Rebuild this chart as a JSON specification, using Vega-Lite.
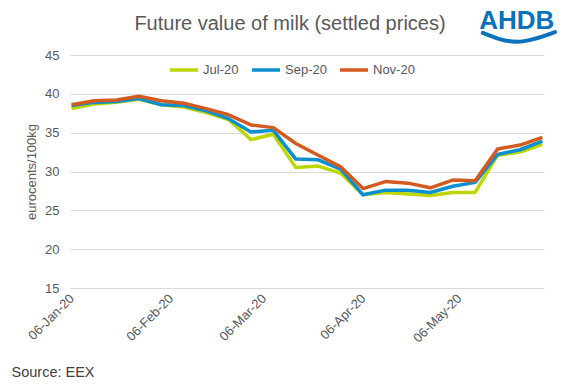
{
  "$schema": "https://vega.github.io/schema/vega-lite/v6.json",
  "width": 474,
  "height": 233,
  "autosize": "none",
  "padding": {"left": 70, "top": 55, "right": 27, "bottom": 102},
  "background": "white",
  "config": {"view": {"stroke": null}, "font": "Liberation Sans"},
  "title": {"text": "Future value of milk (settled prices)", "fontSize": 20, "fontWeight": "normal", "color": "#595959", "anchor": "middle", "frame": "group", "dx": -17, "offset": 0, "dy": 42, "baseline": "alphabetic"},
  "layer": [
    {
      "data": {"values": [
        {"date": "2020-01-06", "contract": "Jul-20", "price": 38.1}, {"date": "2020-01-06", "contract": "Sep-20", "price": 38.5}, {"date": "2020-01-06", "contract": "Nov-20", "price": 38.6},
        {"date": "2020-01-13", "contract": "Jul-20", "price": 38.7}, {"date": "2020-01-13", "contract": "Sep-20", "price": 38.9}, {"date": "2020-01-13", "contract": "Nov-20", "price": 39.1},
        {"date": "2020-01-20", "contract": "Jul-20", "price": 38.9}, {"date": "2020-01-20", "contract": "Sep-20", "price": 39.0}, {"date": "2020-01-20", "contract": "Nov-20", "price": 39.2},
        {"date": "2020-01-27", "contract": "Jul-20", "price": 39.3}, {"date": "2020-01-27", "contract": "Sep-20", "price": 39.4}, {"date": "2020-01-27", "contract": "Nov-20", "price": 39.7},
        {"date": "2020-02-03", "contract": "Jul-20", "price": 38.6}, {"date": "2020-02-03", "contract": "Sep-20", "price": 38.6}, {"date": "2020-02-03", "contract": "Nov-20", "price": 39.1},
        {"date": "2020-02-10", "contract": "Jul-20", "price": 38.3}, {"date": "2020-02-10", "contract": "Sep-20", "price": 38.5}, {"date": "2020-02-10", "contract": "Nov-20", "price": 38.8},
        {"date": "2020-02-17", "contract": "Jul-20", "price": 37.6}, {"date": "2020-02-17", "contract": "Sep-20", "price": 37.8}, {"date": "2020-02-17", "contract": "Nov-20", "price": 38.1},
        {"date": "2020-02-24", "contract": "Jul-20", "price": 36.7}, {"date": "2020-02-24", "contract": "Sep-20", "price": 36.8}, {"date": "2020-02-24", "contract": "Nov-20", "price": 37.3},
        {"date": "2020-03-02", "contract": "Jul-20", "price": 34.1}, {"date": "2020-03-02", "contract": "Sep-20", "price": 35.1}, {"date": "2020-03-02", "contract": "Nov-20", "price": 36.0},
        {"date": "2020-03-09", "contract": "Jul-20", "price": 34.8}, {"date": "2020-03-09", "contract": "Sep-20", "price": 35.3}, {"date": "2020-03-09", "contract": "Nov-20", "price": 35.65},
        {"date": "2020-03-16", "contract": "Jul-20", "price": 30.5}, {"date": "2020-03-16", "contract": "Sep-20", "price": 31.6}, {"date": "2020-03-16", "contract": "Nov-20", "price": 33.6},
        {"date": "2020-03-23", "contract": "Jul-20", "price": 30.7}, {"date": "2020-03-23", "contract": "Sep-20", "price": 31.5}, {"date": "2020-03-23", "contract": "Nov-20", "price": 32.1},
        {"date": "2020-03-30", "contract": "Jul-20", "price": 29.8}, {"date": "2020-03-30", "contract": "Sep-20", "price": 30.3}, {"date": "2020-03-30", "contract": "Nov-20", "price": 30.6},
        {"date": "2020-04-06", "contract": "Jul-20", "price": 27.0}, {"date": "2020-04-06", "contract": "Sep-20", "price": 27.0}, {"date": "2020-04-06", "contract": "Nov-20", "price": 27.8},
        {"date": "2020-04-13", "contract": "Jul-20", "price": 27.3}, {"date": "2020-04-13", "contract": "Sep-20", "price": 27.6}, {"date": "2020-04-13", "contract": "Nov-20", "price": 28.7},
        {"date": "2020-04-20", "contract": "Jul-20", "price": 27.1}, {"date": "2020-04-20", "contract": "Sep-20", "price": 27.6}, {"date": "2020-04-20", "contract": "Nov-20", "price": 28.5},
        {"date": "2020-04-27", "contract": "Jul-20", "price": 26.9}, {"date": "2020-04-27", "contract": "Sep-20", "price": 27.3}, {"date": "2020-04-27", "contract": "Nov-20", "price": 27.9},
        {"date": "2020-05-04", "contract": "Jul-20", "price": 27.3}, {"date": "2020-05-04", "contract": "Sep-20", "price": 28.1}, {"date": "2020-05-04", "contract": "Nov-20", "price": 28.9},
        {"date": "2020-05-11", "contract": "Jul-20", "price": 27.3}, {"date": "2020-05-11", "contract": "Sep-20", "price": 28.6}, {"date": "2020-05-11", "contract": "Nov-20", "price": 28.8},
        {"date": "2020-05-18", "contract": "Jul-20", "price": 32.1}, {"date": "2020-05-18", "contract": "Sep-20", "price": 32.2}, {"date": "2020-05-18", "contract": "Nov-20", "price": 32.9},
        {"date": "2020-05-25", "contract": "Jul-20", "price": 32.5}, {"date": "2020-05-25", "contract": "Sep-20", "price": 32.8}, {"date": "2020-05-25", "contract": "Nov-20", "price": 33.4},
        {"date": "2020-06-01", "contract": "Jul-20", "price": 33.5}, {"date": "2020-06-01", "contract": "Sep-20", "price": 33.9}, {"date": "2020-06-01", "contract": "Nov-20", "price": 34.4}
      ]},
      "mark": {"type": "line", "strokeWidth": 3.5, "strokeJoin": "round", "strokeCap": "butt"},
      "encoding": {
        "x": {
          "field": "date", "type": "temporal",
          "scale": {"type": "utc", "domain": [{"year": 2020, "month": 1, "date": 5, "hours": 12, "utc": true}, {"year": 2020, "month": 6, "date": 1, "hours": 12, "utc": true}]},
          "axis": {
            "values": [
              {"year": 2020, "month": 1, "date": 6, "utc": true},
              {"year": 2020, "month": 2, "date": 6, "utc": true},
              {"year": 2020, "month": 3, "date": 6, "utc": true},
              {"year": 2020, "month": 4, "date": 6, "utc": true},
              {"year": 2020, "month": 5, "date": 6, "utc": true}
            ],
            "format": "%d-%b-%y",
            "labelAngle": -45, "labelAlign": "right", "labelBaseline": "middle", "labelOverlap": false,
            "labelFontSize": 13, "labelColor": "#595959", "labelPadding": 8,
            "ticks": false, "domain": false, "grid": false,
            "title": "Source: EEX", "titleAnchor": "start", "titleAlign": "left", "titleBaseline": "middle",
            "titleX": -59, "titleY": 84, "titleFontSize": 14.5, "titleFontWeight": "normal", "titleColor": "#404040"
          }
        },
        "y": {
          "field": "price", "type": "quantitative",
          "scale": {"domain": [15, 45], "nice": false, "zero": false},
          "axis": {
            "values": [15, 20, 25, 30, 35, 40, 45], "tickCount": 7, "labelOverlap": false,
            "grid": true, "gridColor": "#D9D9D9", "gridWidth": 1,
            "domain": false, "ticks": false,
            "labelFontSize": 13, "labelColor": "#595959", "labelPadding": 11,
            "title": "eurocents/100kg", "titleFontSize": 13, "titleFontWeight": "normal", "titleColor": "#595959", "titlePadding": 6
          }
        },
        "color": {
          "field": "contract", "type": "nominal",
          "scale": {"domain": ["Jul-20", "Sep-20", "Nov-20"], "range": ["#BED600", "#0C8FCF", "#D45B20"]},
          "legend": {
            "orient": "none", "legendX": 98, "legendY": -1, "direction": "horizontal", "title": null,
            "symbolType": "stroke", "symbolSize": 784, "symbolStrokeWidth": 3.5,
            "labelFontSize": 13, "labelColor": "#595959", "labelOffset": 3, "columnPadding": 6
          }
        }
      }
    },
    {
      "data": {"values": [{}]},
      "mark": {"type": "text", "text": "AHDB", "font": "Liberation Sans", "fontSize": 26, "fontWeight": "bold", "color": "#0A72BA", "align": "center", "baseline": "middle"},
      "encoding": {
        "x": {"datum": {"year": 2020, "month": 5, "date": 24, "utc": true}, "type": "temporal"},
        "y": {"datum": 49.4, "type": "quantitative"}
      }
    },
    {
      "data": {"values": [
        {"date": "2020-05-13T10:00:00Z", "v": 47.85},
        {"date": "2020-05-24T02:00:00Z", "v": 46.7},
        {"date": "2020-06-04T22:00:00Z", "v": 47.95}
      ]},
      "mark": {"type": "line", "color": "#0A72BA", "strokeWidth": 4, "interpolate": "natural", "strokeCap": "round"},
      "encoding": {
        "x": {"field": "date", "type": "temporal"},
        "y": {"field": "v", "type": "quantitative"}
      }
    }
  ]
}
